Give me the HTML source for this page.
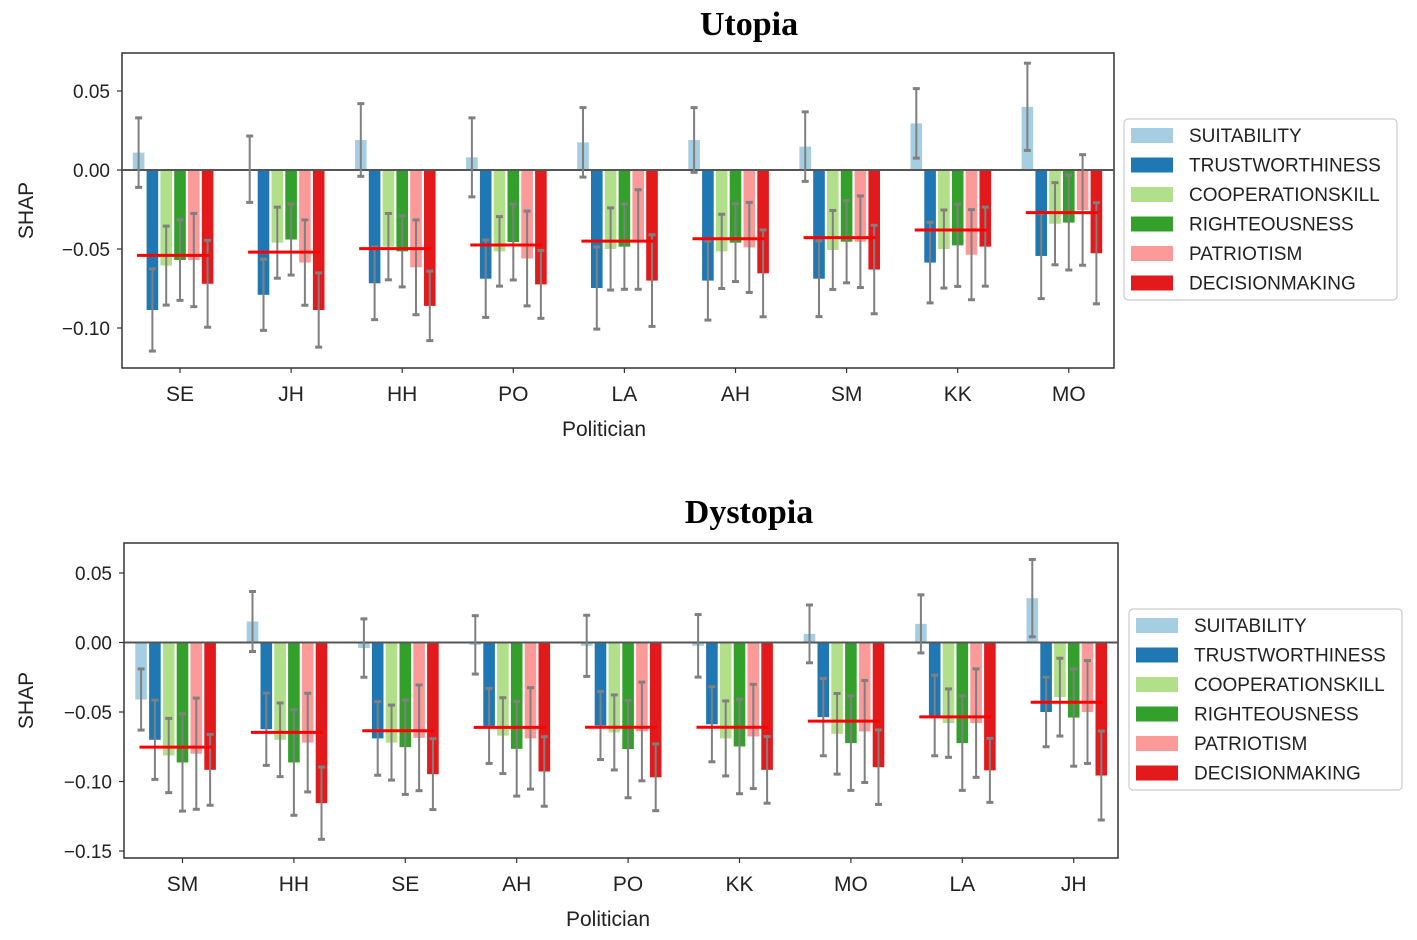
<!DOCTYPE html>
<html><head><meta charset="utf-8"><style>
body{margin:0;background:#fff;}
svg{display:block;font-family:"Liberation Sans",sans-serif;}
</style></head><body>
<svg id="c" width="1417" height="940"></svg>
<script>
const seriesNames=["SUITABILITY","TRUSTWORTHINESS","COOPERATIONSKILL","RIGHTEOUSNESS","PATRIOTISM","DECISIONMAKING"];
const colors=["#a6cee3","#1f78b4","#b2df8a","#33a02c","#fb9a99","#e31a1c"];
const yTicksTop=[0.05,0.00,-0.05,-0.10];
const yTickLabelsTop=["0.05","0.00","\u22120.05","\u22120.10"];
const yTicksBot=[0.05,0.00,-0.05,-0.10,-0.15];
const yTickLabelsBot=["0.05","0.00","\u22120.05","\u22120.10","\u22120.15"];
const utopiaCats=["SE","JH","HH","PO","LA","AH","SM","KK","MO"];
const utopiaVals=[
[0.011,-0.0886,-0.0605,-0.057,-0.057,-0.072],
[0.0005,-0.079,-0.046,-0.044,-0.0586,-0.0886],
[0.019,-0.0717,-0.0485,-0.0515,-0.0616,-0.086],
[0.008,-0.0688,-0.0515,-0.0456,-0.056,-0.0724],
[0.0175,-0.0747,-0.05,-0.0485,-0.044,-0.070],
[0.019,-0.070,-0.0515,-0.046,-0.049,-0.0654],
[0.0148,-0.0688,-0.0506,-0.0454,-0.0454,-0.063],
[0.0295,-0.0586,-0.05,-0.0477,-0.0536,-0.0485],
[0.040,-0.0544,-0.034,-0.0333,-0.0253,-0.0527]];
const utopiaErr=[
[0.022,0.026,0.025,0.0255,0.0295,0.0275],
[0.021,0.0225,0.0225,0.0225,0.027,0.0235],
[0.023,0.023,0.021,0.0225,0.030,0.022],
[0.025,0.0245,0.022,0.024,0.030,0.0215],
[0.022,0.026,0.026,0.027,0.0315,0.029],
[0.0205,0.025,0.0235,0.0246,0.0285,0.0275],
[0.022,0.024,0.025,0.026,0.029,0.028],
[0.022,0.0255,0.0247,0.026,0.0285,0.025],
[0.0276,0.027,0.026,0.030,0.035,0.032]];
const utopiaMean=[-0.054,-0.052,-0.0498,-0.0475,-0.045,-0.0435,-0.0428,-0.038,-0.027];
const dystopiaCats=["SM","HH","SE","AH","PO","KK","MO","LA","JH"];
const dystopiaVals=[
[-0.041,-0.070,-0.0813,-0.0863,-0.080,-0.0916],
[0.0151,-0.0624,-0.070,-0.0863,-0.072,-0.1156],
[-0.004,-0.069,-0.072,-0.0753,-0.0686,-0.0947],
[-0.0017,-0.060,-0.067,-0.0765,-0.069,-0.0928],
[-0.0024,-0.0597,-0.0647,-0.0767,-0.064,-0.097],
[-0.0024,-0.0588,-0.069,-0.0748,-0.0676,-0.0916],
[0.0062,-0.0537,-0.0657,-0.0724,-0.064,-0.0897],
[0.0134,-0.0525,-0.058,-0.0724,-0.058,-0.092],
[0.0319,-0.050,-0.0393,-0.054,-0.050,-0.0957]];
const dystopiaErr=[
[0.022,0.0285,0.0267,0.035,0.040,0.0255],
[0.0216,0.026,0.0265,0.038,0.0355,0.026],
[0.021,0.0265,0.027,0.034,0.038,0.0255],
[0.021,0.027,0.0273,0.034,0.0365,0.025],
[0.022,0.0245,0.027,0.035,0.0355,0.024],
[0.0225,0.027,0.027,0.034,0.0375,0.024],
[0.0208,0.0278,0.029,0.034,0.0367,0.0268],
[0.0209,0.029,0.0246,0.034,0.039,0.023],
[0.0278,0.025,0.028,0.035,0.037,0.032]];
const dystopiaMean=[-0.0753,-0.0647,-0.0635,-0.0611,-0.061,-0.061,-0.0566,-0.0535,-0.043];

const svg=document.getElementById('c');
const NS="http://www.w3.org/2000/svg";
function mk(tag,attrs,parent){const e=document.createElementNS(NS,tag);for(const k in attrs)e.setAttribute(k,attrs[k]);(parent||svg).appendChild(e);return e;}

function panel(cfg){
  const g=mk('g',{});
  
  
  const y=v=>cfg.zeroY-v*cfg.scale;
  const x=i=>cfg.x0+i*cfg.step;
  const t=mk('text',{x:749,y:cfg.titleY,'text-anchor':'middle','font-family':'"Liberation Serif",serif','font-weight':'bold','font-size':34},g);
  t.textContent=cfg.title;
  
  
  const fr=mk('rect',{x:cfg.L,y:cfg.T,width:cfg.R-cfg.L,height:cfg.B-cfg.T,fill:'#fff',stroke:'#333','stroke-width':1.5},g);
  
  
  cfg.vals.forEach((row,i)=>{
    row.forEach((v,j)=>{
      const cx=x(i)+(j-3)*13.8;
      const r=mk('rect',{x:cx-5.8,y:Math.min(y(v),y(0)),width:11.6,height:Math.abs(y(v)-y(0)),fill:colors[j]},g);
      
      
    });
  });
  mk('line',{x1:cfg.L,x2:cfg.R,y1:y(0),y2:y(0),stroke:'#555','stroke-width':2},g);
  cfg.vals.forEach((row,i)=>{
    row.forEach((v,j)=>{
      const cx=x(i)+(j-3)*13.8,e=cfg.err[i][j];
      const eb=mk('g',{stroke:'#808080'},g);
      
      
      mk('line',{x1:cx,x2:cx,y1:y(v+e),y2:y(v-e),'stroke-width':2},eb);
      mk('line',{x1:cx-3.5,x2:cx+3.5,y1:y(v+e),y2:y(v+e),'stroke-width':3},eb);
      mk('line',{x1:cx-3.5,x2:cx+3.5,y1:y(v-e),y2:y(v-e),'stroke-width':3},eb);
    });
    const m=mk('line',{x1:x(i)-43,x2:x(i)+29,y1:y(cfg.mean[i]),y2:y(cfg.mean[i]),stroke:'#ff0000','stroke-width':3},g);
    
    
    mk('line',{x1:x(i),x2:x(i),y1:cfg.B,y2:cfg.B+5,stroke:'#333','stroke-width':1.2},g);
    const lt=mk('text',{x:x(i),y:cfg.B+33,'text-anchor':'middle','font-size':21,fill:'#222'},g);
    lt.textContent=cfg.cats[i];
    
    
  });
  cfg.ticks.forEach((v,k)=>{
    mk('line',{x1:cfg.L-5,x2:cfg.L,y1:y(v),y2:y(v),stroke:'#333','stroke-width':1.2},g);
    const tt=mk('text',{x:cfg.L-12,y:y(v)+7,'text-anchor':'end','font-size':19,fill:'#222'},g);
    tt.textContent=cfg.tickLabels[k];
    
    
  });
  const xt=mk('text',{x:cfg.xTitleX,y:cfg.B+68,'text-anchor':'middle','font-size':21,fill:'#222'},g);
  xt.textContent='Politician';
  
  
  const yc=(cfg.T+cfg.B)/2;
  const yt=mk('text',{x:33,y:yc,'text-anchor':'middle','font-size':21,fill:'#222',transform:`rotate(-90 33 ${yc})`},g);
  yt.textContent='SHAP';
  
  
  const lg=mk('g',{},g);
  
  
  mk('rect',{x:cfg.lgX,y:cfg.lgY,width:273,height:181,rx:4,fill:'#fff',stroke:'#ccc','stroke-width':1.2},lg);
  seriesNames.forEach((n,j)=>{
    const ey=cfg.lgY+16+j*29.5;
    const en=mk('g',{},lg);
    
    
    mk('rect',{x:cfg.lgX+7,y:ey-7,width:42,height:15,fill:colors[j]},en);
    const tx=mk('text',{x:cfg.lgX+65,y:ey+7,'font-size':19,fill:'#222'},en);
    tx.textContent=n;
  });
}
panel({name:'utopia-chart',title:'Utopia',titleY:35,L:122,R:1114,T:53,B:368,zeroY:170,scale:1580,x0:180,step:111.1,xTitleX:604,
  cats:utopiaCats,vals:utopiaVals,err:utopiaErr,mean:utopiaMean,ticks:yTicksTop,tickLabels:yTickLabelsTop,lgX:1124,lgY:119});
panel({name:'dystopia-chart',title:'Dystopia',titleY:523,L:124,R:1118,T:543,B:858,zeroY:642.5,scale:1390,x0:182.5,step:111.4,xTitleX:608,
  cats:dystopiaCats,vals:dystopiaVals,err:dystopiaErr,mean:dystopiaMean,ticks:yTicksBot,tickLabels:yTickLabelsBot,lgX:1129,lgY:609});
</script>
</body></html>
